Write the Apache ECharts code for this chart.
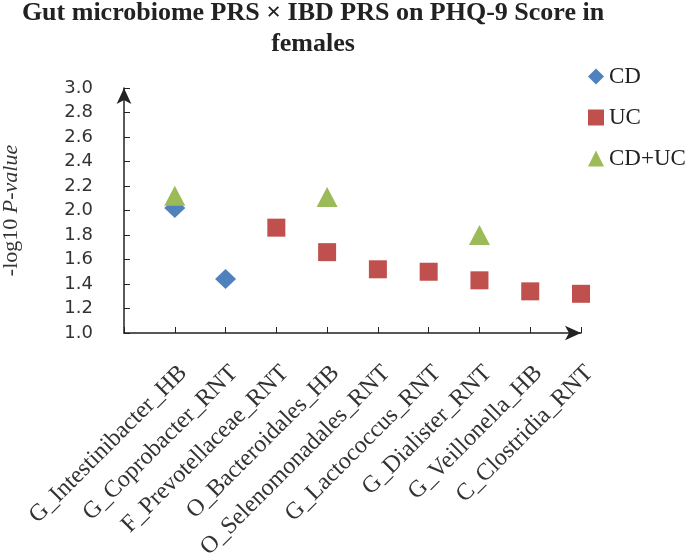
<!DOCTYPE html>
<html>
<head>
<meta charset="utf-8">
<script src="https://cdn.jsdelivr.net/npm/echarts@6/dist/echarts.min.js"></script>
<style>html,body{margin:0;padding:0;background:#fff}#c{width:689px;height:553px}</style>
</head>
<body>
<div id="c"></div>
<script>
var categories = ['G_Intestinibacter_HB','G_Coprobacter_RNT','F_Prevotellaceae_RNT','O_Bacteroidales_HB','O_Selenomonadales_RNT','G_Lactococcus_RNT','G_Dialister_RNT','G_Veillonella_HB','C_Clostridia_RNT'];
var cdX = [1, 2];
var cdY = [2.02, 1.44];
var ucX = [3, 4, 5, 6, 7, 8, 9];
var ucY = [1.86, 1.66, 1.52, 1.50, 1.43, 1.34, 1.32];
var bothX = [1, 4, 7];
var bothY = [2.12, 2.11, 1.80];
var yTicks = [1.0, 1.2, 1.4, 1.6, 1.8, 2.0, 2.2, 2.4, 2.6, 2.8, 3.0];

function pairs(xs, ys){ return xs.map(function(x,i){ return [x, ys[i]]; }); }
var serif = '"Liberation Serif","Times New Roman",serif';
var chart = echarts.init(document.getElementById('c'));
chart.setOption({
  animation: false,
  backgroundColor: '#fff',
  graphic: [
    {type:'text', x:313, y:13, style:{text:'Gut microbiome PRS × IBD PRS on PHQ-9 Score in', font:'bold 26px '+serif, fill:'#222', align:'center', verticalAlign:'middle'}},
    {type:'text', x:313, y:44, style:{text:'females', font:'bold 26px '+serif, fill:'#222', align:'center', verticalAlign:'middle'}}
  ],
  legend: {
    orient: 'vertical', left: 583, top: 60, itemWidth: 16, itemHeight: 16, itemGap: 18,
    textStyle: {fontFamily: serif, fontSize: 23, color: '#222'},
    data: ['CD','UC','CD+UC']
  },
  grid: {left: 124, top: 88, right: 108, bottom: 220, outerBoundsMode: 'none', containLabel: false},
  xAxis: {
    type: 'value', min: 0, max: 9, interval: 1,
    splitLine: {show:false},
    axisLine: {lineStyle:{color:'#222', width:1.5}, symbol:['none','arrow'], symbolSize:[11,16]},
    axisTick: {inside:true, length:6, lineStyle:{color:'#222'}},
    axisLabel: {
      rotate: 45, margin: 28, align: 'right', verticalAlign: 'top',
      fontFamily: serif, fontSize: 24, color: '#333',
      formatter: function(v){ return v >= 1 ? categories[v-1] : ''; }
    }
  },
  yAxis: {
    type: 'value', min: yTicks[0], max: yTicks[yTicks.length-1], interval: 0.2,
    splitLine: {show:false},
    axisLine: {show:true, lineStyle:{color:'#222', width:1.5}, symbol:['none','arrow'], symbolSize:[11,16]},
    axisTick: {show:true, inside:true, length:6, lineStyle:{color:'#222'}},
    axisLabel: {margin: 31, fontFamily: '"DejaVu Sans",Verdana,sans-serif', fontSize: 18, color: '#333',
      formatter: function(v){ return v.toFixed(1); }},
    name: '-log10 {i|P-value}', nameLocation: 'middle', nameRotate: 90, nameGap: 102,
    nameTextStyle: {fontFamily: serif, fontSize: 22, color: '#333',
      rich: {i: {fontFamily: serif, fontSize: 22, fontStyle: 'italic', color: '#333'}}}
  },
  series: [
    {name:'CD', type:'scatter', symbol:'diamond', symbolSize:[21,20], itemStyle:{color:'#4F81BD', opacity:1}, data: pairs(cdX, cdY)},
    {name:'UC', type:'scatter', symbol:'rect', symbolSize:18, itemStyle:{color:'#C0504D', opacity:1}, data: pairs(ucX, ucY)},
    {name:'CD+UC', type:'scatter', symbol:'triangle', symbolSize:[21,20], itemStyle:{color:'#9BBB59', opacity:1}, data: pairs(bothX, bothY)}
  ]
});
</script>
</body>
</html>
